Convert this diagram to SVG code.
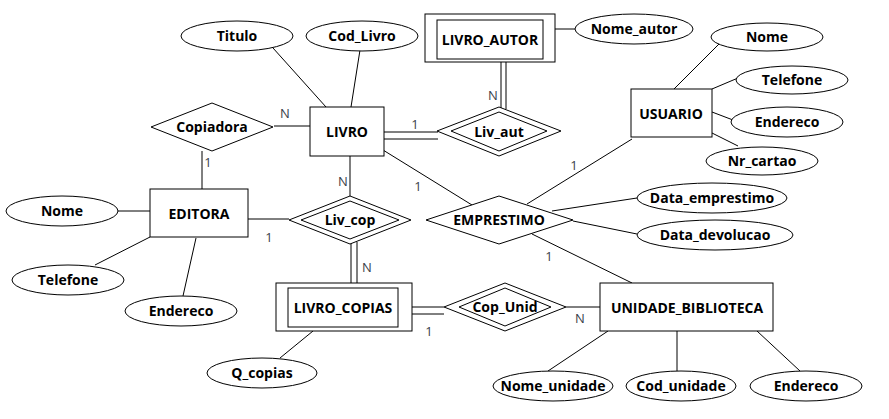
<svg xmlns="http://www.w3.org/2000/svg" width="889" height="419" viewBox="0 0 889 419">
<style>
.s{fill:#fff;stroke:#000;stroke-width:1}
.t{font-family:"Open Sans","DejaVu Sans",sans-serif;font-weight:bold;font-size:14px;text-anchor:middle;fill:#000}
.c{font-family:"Open Sans","DejaVu Sans",sans-serif;font-size:13px;text-anchor:middle;fill:#3a3f4a}
.l{stroke:#000;stroke-width:1;fill:none}
</style>
<rect width="889" height="419" fill="#fff"/>
<g id="connectors">
<line class="l" x1="273" y1="48" x2="326" y2="107"/>
<line class="l" x1="360" y1="50" x2="351" y2="107"/>
<line class="l" x1="555" y1="29" x2="575" y2="29"/>
<line class="l" x1="501" y1="62" x2="501" y2="108"/>
<line class="l" x1="506" y1="62" x2="506" y2="109"/>
<line class="l" x1="384" y1="132" x2="438" y2="132"/>
<line class="l" x1="384" y1="139" x2="438" y2="139"/>
<line class="l" x1="274" y1="126" x2="310" y2="126"/>
<line class="l" x1="202" y1="151" x2="202" y2="189"/>
<line class="l" x1="350" y1="156" x2="350" y2="196"/>
<line class="l" x1="248" y1="219" x2="289" y2="219"/>
<line class="l" x1="351" y1="243" x2="351" y2="283"/>
<line class="l" x1="357" y1="242" x2="357" y2="283"/>
<line class="l" x1="383" y1="150" x2="472" y2="205"/>
<line class="l" x1="632" y1="139" x2="527" y2="204"/>
<line class="l" x1="552" y1="211" x2="637" y2="198"/>
<line class="l" x1="573" y1="221" x2="637" y2="234"/>
<line class="l" x1="532" y1="234" x2="632" y2="283"/>
<line class="l" x1="412" y1="307" x2="444" y2="307"/>
<line class="l" x1="412" y1="314" x2="444" y2="314"/>
<line class="l" x1="566" y1="307" x2="600" y2="307"/>
<line class="l" x1="117" y1="211" x2="150" y2="211"/>
<line class="l" x1="95" y1="265" x2="150" y2="237"/>
<line class="l" x1="183" y1="296" x2="196" y2="238"/>
<line class="l" x1="280" y1="358" x2="313" y2="331"/>
<line class="l" x1="548" y1="371" x2="608" y2="331"/>
<line class="l" x1="677" y1="331" x2="677" y2="371"/>
<line class="l" x1="800" y1="371" x2="757" y2="331"/>
<line class="l" x1="674" y1="89" x2="719" y2="44"/>
<line class="l" x1="712" y1="89" x2="738" y2="78"/>
<line class="l" x1="712" y1="112" x2="733" y2="120"/>
<line class="l" x1="712" y1="133" x2="738" y2="146"/>
<text class="c" x="285" y="118">N</text>
<text class="c" x="415" y="129">1</text>
<text class="c" x="493" y="100">N</text>
<text class="c" x="208" y="167">1</text>
<text class="c" x="343" y="186">N</text>
<text class="c" x="269" y="242">1</text>
<text class="c" x="418" y="191">1</text>
<text class="c" x="574" y="170">1</text>
<text class="c" x="549" y="261">1</text>
<text class="c" x="367" y="272">N</text>
<text class="c" x="429" y="336">1</text>
<text class="c" x="580" y="323">N</text>
</g>
<g id="Titulo"><ellipse class="s" cx="237" cy="36" rx="56" ry="15"/><text class="t" x="237" y="41">Titulo</text></g>
<g id="Cod_Livro"><ellipse class="s" cx="362" cy="36" rx="56" ry="15"/><text class="t" x="362" y="41">Cod_Livro</text></g>
<g id="LIVRO_AUTOR"><rect class="s" x="425" y="14" width="130" height="48"/><rect class="s" x="437" y="20" width="106" height="39"/><text class="t" x="490" y="45">LIVRO_AUTOR</text></g>
<g id="Nome_autor"><ellipse class="s" cx="634" cy="29" rx="59" ry="15"/><text class="t" x="634" y="34">Nome_autor</text></g>
<g id="LIVRO"><rect class="s" x="310" y="107" width="74" height="49"/><text class="t" x="347" y="137">LIVRO</text></g>
<g id="Copiadora"><polygon class="s" points="151,127 212,103 273,127 212,151"/><text class="t" x="212" y="132">Copiadora</text></g>
<g id="Liv_aut"><polygon class="s" points="437,131 499,107 561,131 499,156"/><polygon class="s" points="451,131 499,112 547,131 499,151"/><text class="t" x="499" y="137">Liv_aut</text></g>
<g id="USUARIO"><rect class="s" x="631" y="89" width="81" height="48"/><text class="t" x="671" y="119">USUARIO</text></g>
<g id="Nome_usuario"><ellipse class="s" cx="767" cy="37" rx="56" ry="14"/><text class="t" x="767" y="42">Nome</text></g>
<g id="Telefone_usuario"><ellipse class="s" cx="792" cy="80" rx="56" ry="14"/><text class="t" x="792" y="85">Telefone</text></g>
<g id="Endereco_usuario"><ellipse class="s" cx="787" cy="122" rx="56" ry="15"/><text class="t" x="787" y="127">Endereco</text></g>
<g id="Nr_cartao"><ellipse class="s" cx="762" cy="161" rx="56" ry="14"/><text class="t" x="762" y="166">Nr_cartao</text></g>
<g id="EDITORA"><rect class="s" x="150" y="189" width="98" height="48"/><text class="t" x="199" y="219">EDITORA</text></g>
<g id="Nome_editora"><ellipse class="s" cx="62" cy="211" rx="56" ry="15"/><text class="t" x="62" y="216">Nome</text></g>
<g id="Telefone_editora"><ellipse class="s" cx="68" cy="280" rx="56" ry="15"/><text class="t" x="68" y="285">Telefone</text></g>
<g id="Endereco_editora"><ellipse class="s" cx="181" cy="311" rx="56" ry="15"/><text class="t" x="181" y="316">Endereco</text></g>
<g id="Liv_cop"><polygon class="s" points="289,220 350,196 411,220 350,244"/><polygon class="s" points="301,220 350,201 399,220 350,239"/><text class="t" x="350" y="225">Liv_cop</text></g>
<g id="EMPRESTIMO"><polygon class="s" points="426,220 499,196 573,220 499,244"/><text class="t" x="499" y="225">EMPRESTIMO</text></g>
<g id="Data_emprestimo"><ellipse class="s" cx="712" cy="198" rx="75" ry="15"/><text class="t" x="712" y="203">Data_emprestimo</text></g>
<g id="Data_devolucao"><ellipse class="s" cx="715" cy="235" rx="78" ry="15"/><text class="t" x="715" y="240">Data_devolucao</text></g>
<g id="LIVRO_COPIAS"><rect class="s" x="276" y="283" width="136" height="48"/><rect class="s" x="288" y="288" width="110" height="39"/><text class="t" x="343" y="313">LIVRO_COPIAS</text></g>
<g id="Cop_Unid"><polygon class="s" points="444,307 505,283 566,307 505,331"/><polygon class="s" points="459,307 505,288 551,307 505,326"/><text class="t" x="505" y="312">Cop_Unid</text></g>
<g id="UNIDADE_BIBLIOTECA"><rect class="s" x="600" y="283" width="173" height="48"/><text class="t" x="687" y="313">UNIDADE_BIBLIOTECA</text></g>
<g id="Q_copias"><ellipse class="s" cx="262" cy="373" rx="55" ry="15"/><text class="t" x="262" y="378">Q_copias</text></g>
<g id="Nome_unidade"><ellipse class="s" cx="553" cy="386" rx="60" ry="15"/><text class="t" x="553" y="391">Nome_unidade</text></g>
<g id="Cod_unidade"><ellipse class="s" cx="681" cy="386" rx="55" ry="15"/><text class="t" x="681" y="391">Cod_unidade</text></g>
<g id="Endereco_unidade"><ellipse class="s" cx="806" cy="386" rx="56" ry="15"/><text class="t" x="806" y="391">Endereco</text></g>
</svg>
